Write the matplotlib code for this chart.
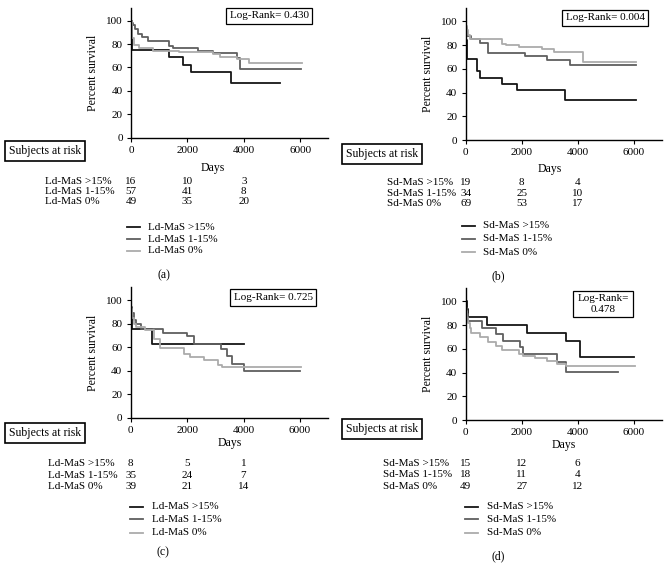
import matplotlib
matplotlib.use('Agg')
import matplotlib.pyplot as plt

plt.rcParams['font.family'] = ['Liberation Serif', 'DejaVu Serif']

# ---- data (survival %) ----
# panel (a) Ld-MaS
a_hi_t = [0, 40, 1330, 1830, 2130, 3540, 5290]
a_hi_s = [100, 75, 68.8, 62.5, 56.3, 46.9, 46.9]
a_mid_t = [0, 30, 80, 150, 250, 400, 600, 1330, 1480, 2370, 2920, 3750, 3870, 6040]
a_mid_s = [100, 98, 96, 93, 89, 86, 83, 78.5, 76.4, 74.4, 72.6, 67.8, 59, 59]
a_lo_t = [0, 20, 100, 300, 790, 1700, 2920, 3150, 3750, 4170, 6060]
a_lo_s = [100, 85, 79, 77, 74.4, 73.5, 71.3, 69.2, 67, 63.6, 63.6]

# panel (b) Sd-MaS
b_hi_t = [0, 20, 40, 420, 520, 1290, 1845, 3550, 6070]
b_hi_s = [100, 84.2, 68.4, 57.9, 52.6, 47.4, 42.1, 33.7, 33.7]
b_mid_t = [0, 20, 60, 200, 500, 780, 2120, 2890, 3730, 6080]
b_mid_s = [100, 94, 88, 85.3, 81.5, 73.5, 70.6, 67.6, 63.2, 63.2]
b_lo_t = [0, 15, 40, 80, 150, 1300, 1450, 1900, 2720, 3150, 4200, 6080]
b_lo_s = [100, 95.7, 92.8, 88.4, 85.5, 81.2, 79.7, 78.3, 76.8, 74, 65.4, 65.4]

# panel (c) Ld-MaS
c_hi_t = [0, 20, 40, 750, 4000]
c_hi_s = [100, 87.5, 75, 62.5, 62.5]
c_mid_t = [0, 20, 50, 100, 200, 350, 1150, 1980, 2250, 3200, 3400, 3580, 4000, 6000]
c_mid_s = [100, 94.3, 88.6, 82.9, 80, 75, 72, 69, 62.6, 58, 52, 46, 39.5, 39.5]
c_lo_t = [0, 15, 40, 100, 200, 500, 830, 1050, 1900, 2100, 2600, 3100, 3250, 6030]
c_lo_s = [100, 92, 85, 80, 77, 74.5, 67, 59.5, 54, 51.3, 49, 45, 43.5, 43.5]

# panel (d) Sd-MaS
d_hi_t = [0, 40, 100, 750, 2200, 3600, 4080, 6000]
d_hi_s = [100, 93.3, 86.7, 80, 73.3, 66.7, 52.8, 52.8]
d_mid_t = [0, 20, 50, 100, 570, 1100, 1340, 1940, 2060, 3250, 3600, 5450]
d_mid_s = [100, 94.4, 88.9, 83.3, 77.8, 72.2, 66.7, 61.1, 55.6, 48.6, 40.5, 40.5]
d_lo_t = [0, 20, 50, 100, 150, 200, 500, 800, 1100, 1300, 1900, 2060, 2480, 2900, 3250, 3600, 6050]
d_lo_s = [100, 91.8, 85.7, 81.6, 77.6, 73.5, 69.7, 66, 62, 59, 56, 54, 52, 50, 47.5, 45.6, 45.6]

ld_names = ['Ld-MaS >15%', 'Ld-MaS 1-15%', 'Ld-MaS 0%']
sd_names = ['Sd-MaS >15%', 'Sd-MaS 1-15%', 'Sd-MaS 0%']
risk_days = [0, 2000, 4000]
a_risk = [[16, 10, 3], [57, 41, 8], [49, 35, 20]]
b_risk = [[19, 8, 4], [34, 25, 10], [69, 53, 17]]
c_risk = [[8, 5, 1], [35, 24, 7], [39, 21, 14]]
d_risk = [[15, 12, 6], [18, 11, 4], [49, 27, 12]]
logrank = ['Log-Rank= 0.430', 'Log-Rank= 0.004', 'Log-Rank= 0.725', 'Log-Rank=\n0.478']
tags = ['(a)', '(b)', '(c)', '(d)']

colors = ['#161616', '#5f5f5f', '#ababab']
W, H = 669, 574
FS = 8.5    # labels
SM = 8      # ticks, tables, legends

fig = plt.figure(figsize=(W / 100, H / 100), dpi=100)


def fx(px):
    return px / W


def fy(py):
    return 1 - py / H


def panel(x0, ybot, xs, ys, curves, names, risk, lr, lr_xy, tag, lay):
    # x0/ybot: pixel of data origin, xs/ys: pixels per 1000 days / per 1 %
    top = ybot - 111 * ys
    ax = fig.add_axes([fx(x0), fy(ybot), 7 * xs / W, (ybot - top) / H])
    for (t, s), c in zip(curves, colors):
        ax.step(t, s, where='post', color=c, lw=1.3)
    ax.set_xlim(0, 7000)
    ax.set_ylim(0, 111)
    ax.set_xticks([0, 2000, 4000, 6000])
    ax.set_yticks([0, 20, 40, 60, 80, 100])
    ax.spines['top'].set_visible(False)
    ax.spines['right'].set_visible(False)
    ax.spines['left'].set_linewidth(1)
    ax.spines['bottom'].set_linewidth(1)
    ax.tick_params(labelsize=SM, length=3, width=0.8, pad=3)
    ax.set_ylabel('Percent survival', fontsize=FS, labelpad=5)
    fig.text(fx(lr_xy[0]), fy(lr_xy[1]), lr, fontsize=SM, ha='center', va='center',
             linespacing=1.15,
             bbox=dict(boxstyle='square,pad=0.35', fc='white', ec='black', lw=0.9))
    fig.text(fx(lay['box'][0]), fy(lay['box'][1]), 'Subjects at risk', fontsize=FS,
             ha='center', va='center',
             bbox=dict(boxstyle='square,pad=0.3', fc='white', ec='black', lw=1.2))
    fig.text(fx(lay['days'][0]), fy(lay['days'][1]), 'Days', fontsize=FS,
             ha='center', va='center')
    for i, (nm, row) in enumerate(zip(names, risk)):
        yy = fy(lay['rows'][i])
        fig.text(fx(lay['lab_x']), yy, nm, fontsize=SM, ha='left', va='center')
        for d, v in zip(risk_days, row):
            fig.text(fx(x0 + d / 1000 * xs), yy, str(v), fontsize=SM,
                     ha='center', va='center')
    lx0, lx1, tx = lay['leg_x']
    for i, nm in enumerate(names):
        yy = fy(lay['leg_y'][i])
        fig.add_artist(plt.Line2D([fx(lx0), fx(lx1)], [yy, yy], color=colors[i],
                                  lw=1.3, transform=fig.transFigure))
        fig.text(fx(tx), yy, nm, fontsize=SM, ha='left', va='center')
    fig.text(fx(lay['tag'][0]), fy(lay['tag'][1]), tag, fontsize=FS,
             ha='center', va='center')
    return ax


panel(131, 137.7, 28.2, 1.17,
      [(a_hi_t, a_hi_s), (a_mid_t, a_mid_s), (a_lo_t, a_lo_s)],
      ld_names, a_risk, logrank[0], (269, 16), tags[0],
      dict(box=(45, 151), days=(213, 168), rows=[181, 191.5, 202], lab_x=45,
           leg_x=(127, 140, 148), leg_y=[227.3, 239, 250.7], tag=(164, 275)))

panel(465.7, 140, 28, 1.187,
      [(b_hi_t, b_hi_s), (b_mid_t, b_mid_s), (b_lo_t, b_lo_s)],
      sd_names, b_risk, logrank[1], (605, 18), tags[1],
      dict(box=(382, 154), days=(550, 169.3), rows=[183, 193.5, 204],
           lab_x=386.7, leg_x=(461.7, 475, 483.3), leg_y=[225.7, 238.8, 252.2],
           tag=(498.3, 276)))

panel(130.7, 417.7, 28.2, 1.177,
      [(c_hi_t, c_hi_s), (c_mid_t, c_mid_s), (c_lo_t, c_lo_s)],
      ld_names, c_risk, logrank[2], (273, 297.5), tags[2],
      dict(box=(45, 433), days=(230, 443.3), rows=[463.3, 475, 486.7], lab_x=48.3,
           leg_x=(130, 143.3, 151.7), leg_y=[506.7, 519.3, 532.7], tag=(163.3, 552.7)))

panel(465.7, 420, 28, 1.187,
      [(d_hi_t, d_hi_s), (d_mid_t, d_mid_s), (d_lo_t, d_lo_s)],
      sd_names, d_risk, logrank[3], (603, 304), tags[3],
      dict(box=(382, 429), days=(563.3, 445), rows=[463.3, 474.8, 486.3],
           lab_x=383.3, leg_x=(465, 478, 486.7), leg_y=[506.7, 519.3, 532.7],
           tag=(498.3, 556.7)))

fig.savefig('out.png', dpi=100, facecolor='white')
